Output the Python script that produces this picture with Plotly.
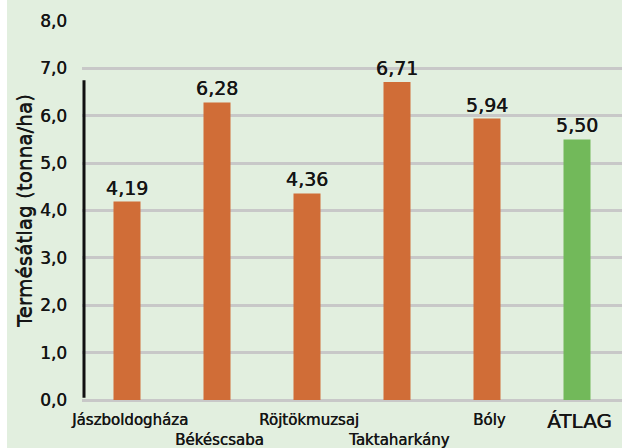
import plotly.graph_objects as go

categories = ["Jászboldogháza", "Békéscsaba", "Röjtökmuzsaj", "Taktaharkány", "Bóly", "ÁTLAG"]
values = [4.19, 6.28, 4.36, 6.71, 5.94, 5.50]
value_labels = ["4,19", "6,28", "4,36", "6,71", "5,94", "5,50"]
bar_colors = ["#d06d37", "#d06d37", "#d06d37", "#d06d37", "#d06d37", "#72b95a"]
tick_vals = [0, 1, 2, 3, 4, 5, 6, 7, 8]
tick_text = ["0,0", "1,0", "2,0", "3,0", "4,0", "5,0", "6,0", "7,0", "8,0"]
y_title = "Termésátlag (tonna/ha)"

BG = "#e2efdf"
FONT = "DejaVu Sans"
TXT = "#141414"
SH = "0.45px 0px 0px #141414"
L, T, B = 82, 21, 48
PW = 622 - L

fig = go.Figure()
fig.add_trace(go.Bar(
    x=categories, y=values, width=0.3,
    marker=dict(color=bar_colors, line=dict(width=0)),
    text=value_labels, textposition="outside", cliponaxis=False, constraintext="none",
    textfont=dict(family=FONT, size=19, color=TXT, shadow=SH),
))

# staggered category labels (two rows)
row_shift = [-9, -29, -9, -29, -9, -7]
for i, c in enumerate(categories):
    big = c == "ÁTLAG"
    fig.add_annotation(
        x=c, y=0, xref="x", yref="y", text=c, showarrow=False,
        yanchor="top", xanchor="center", yshift=row_shift[i], xshift=2,
        font=dict(family=FONT, size=20 if big else 15, color=TXT, shadow=SH),
    )

# black vertical line near y-axis
fig.add_shape(type="line", xref="paper", yref="y", x0=2 / PW, x1=2 / PW, y0=0.05, y1=6.75,
              line=dict(color="#111111", width=3))
# white strip at far left
fig.add_shape(type="rect", xref="paper", yref="paper", x0=-L / PW - 0.01, x1=(7 - L) / PW,
              y0=-0.5, y1=1.5, fillcolor="white", line=dict(width=0), layer="above")

fig.update_layout(
    width=622, height=448,
    margin=dict(l=L, r=0, t=T, b=B, autoexpand=False),
    paper_bgcolor=BG, plot_bgcolor=BG,
    showlegend=False, bargap=0.7,
    font=dict(family=FONT, color=TXT),
    xaxis=dict(showticklabels=False, showgrid=False, zeroline=False, showline=False,
               range=[-0.5, 5.5]),
    yaxis=dict(range=[0, 8], tickvals=tick_vals, ticktext=tick_text,
               showgrid=True, gridcolor="#c8c8c8", gridwidth=2.5,
               zeroline=True, zerolinecolor="#c8c8c8", zerolinewidth=2.5,
               showline=False, ticklabelstandoff=14,
               tickfont=dict(family=FONT, size=17, color=TXT, shadow=SH),
               title=dict(text=y_title, standoff=2,
                          font=dict(family=FONT, size=20, color=TXT,
                                    shadow="0px 0.6px 0px #141414"))),
)

fig.write_html("out.html", config={"displayModeBar": False},
               post_script="document.body.style.margin='0';document.body.style.overflow='hidden';")
